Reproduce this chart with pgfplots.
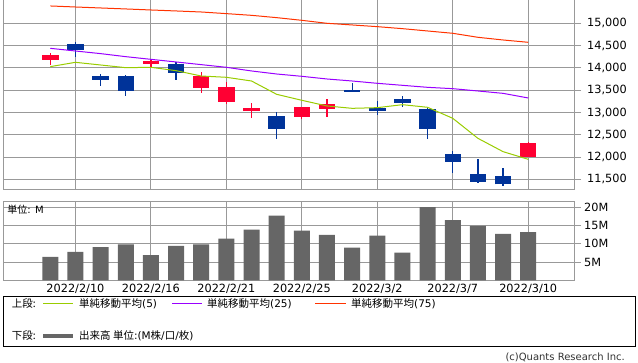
\documentclass[border=0pt]{standalone}
\usepackage{pgfplots}
\pgfplotsset{compat=1.18}
\usepackage{fontspec}
\setmainfont{DejaVu Sans}
\newfontfamily\jp{Noto Sans CJK JP}
\definecolor{upc}{HTML}{FF0033}
\definecolor{dnc}{HTML}{003399}
\definecolor{maA}{HTML}{99CC00}
\definecolor{maB}{HTML}{9900FF}
\definecolor{maC}{HTML}{FF3300}
\definecolor{gridc}{HTML}{999999}
\definecolor{volc}{HTML}{666666}
\pgfplotsset{
  panel/.style={
    scale only axis, anchor=south west,
    width=571bp,
    xmin=-1.88, xmax=20.82,
    scaled ticks=false,
    axis line style={draw=gridc, line width=1bp},
    grid=major, major grid style={draw=gridc, line width=1bp},
    xtick={1,4,7,10,13,16,19},
    xtick style={draw=none},
    ytick pos=right, yticklabel pos=right,
    ytick style={draw=gridc, line width=1bp},
    tick align=outside, major tick length=7bp,
    tick label style={font=\fontsize{11.3bp}{13bp}\selectfont, text=black},
    yticklabel style={anchor=west, inner sep=0pt},
    /pgf/number format/.cd, 1000 sep={,}, assume math mode=true,
  },
  wick/.style={draw=none, mark=none, forget plot,
    error bars/.cd, y dir=plus, y explicit, error mark=none,
    error bar style={line width=1.2bp, draw=#1}},
  body/.style={draw=none, mark=none, forget plot,
    error bars/.cd, y dir=plus, y explicit, error mark=none,
    error bar style={line width=16.5bp, draw=#1}},
}
\begin{document}
\begin{tikzpicture}[x=1bp,y=1bp]
\path[use as bounding box] (0,0) rectangle (638,362);
% ---------- price panel ----------
\begin{axis}[panel, at={(3bp,172bp)}, height=190bp,
  ymin=11261, ymax=15523,
  ytick={11500,12000,12500,13000,13500,14000,14500,15000},
  yticklabel style={xshift=6bp},
  xticklabels={}]
% wicks: (k, low) +- (0, high-low)
\addplot[wick=upc] coordinates {
 (0,14065) +- (0,262)
 (4,14028) +- (0,142)
 (6,13437) +- (0,471)
 (7,13190) +- (0,494)
 (8,12876) +- (0,337)
 (10,12861) +- (0,269)
 (11,12906) +- (0,397)
 (19,12009) +- (0,321)
};
\addplot[wick=dnc] coordinates {
 (1,14252) +- (0,329)
 (2,13594) +- (0,269)
 (3,13370) +- (0,478)
 (5,13729) +- (0,396)
 (9,12413) +- (0,590)
 (12,13467) +- (0,202)
 (13,12951) +- (0,307)
 (14,13131) +- (0,239)
 (15,12413) +- (0,703)
 (16,11650) +- (0,486)
 (17,11425) +- (0,531)
 (18,11358) +- (0,397)
};
% bodies: (k, min(open,close)) +- (0, |close-open|)
\addplot[body=upc] coordinates {
 (0,14177) +- (0,113)
 (4,14088) +- (0,67)
 (6,13549) +- (0,269)
 (7,13243) +- (0,329)
 (8,13033) +- (0,75)
 (10,12899) +- (0,224)
 (11,13078) +- (0,112)
 (19,12009) +- (0,306)
};
\addplot[body=dnc] coordinates {
 (1,14402) +- (0,134)
 (2,13729) +- (0,89)
 (3,13489) +- (0,329)
 (5,13893) +- (0,195)
 (9,12630) +- (0,291)
 (12,13467) +- (0,37)
 (13,13041) +- (0,60)
 (14,13220) +- (0,83)
 (15,12637) +- (0,441)
 (16,11897) +- (0,172)
 (17,11448) +- (0,172)
 (18,11388) +- (0,187)
};
% moving averages
\addplot[maC, line width=1bp, mark=none] coordinates {
 (0,15389) (1,15366) (2,15344) (3,15322) (4,15299) (5,15277) (6,15254)
 (7,15217) (8,15179) (9,15127) (10,15067) (11,15000) (12,14963) (13,14925)
 (14,14880) (15,14828) (16,14776) (17,14686) (18,14626) (19,14574)};
\addplot[maB, line width=1bp, mark=none] coordinates {
 (0,14439) (1,14379) (2,14320) (3,14252) (4,14192) (5,14133) (6,14073)
 (7,14013) (8,13931) (9,13863) (10,13811) (11,13751) (12,13706) (13,13654)
 (14,13609) (15,13564) (16,13534) (17,13482) (18,13429) (19,13325)};
\addplot[maA, line width=1bp, mark=none] coordinates {
 (0,14028) (1,14125) (2,14065) (3,14005) (4,14013) (5,13938) (6,13818)
 (7,13789) (8,13706) (9,13407) (10,13273) (11,13146) (12,13093) (13,13108)
 (14,13175) (15,13116) (16,12869) (17,12420) (18,12121) (19,11949)};
\end{axis}
% ---------- volume panel ----------
\begin{axis}[panel, at={(3bp,81.7bp)}, height=79.3bp,
  ymin=0, ymax=21.7,
  ytick={5,10,15,20}, yticklabels={5M,10M,15M,20M},
  yticklabel style={xshift=3bp},
  xticklabels={2022/2/10,2022/2/16,2022/2/21,2022/2/25,2022/3/2,2022/3/7,2022/3/10},
  xticklabel style={anchor=north, inner sep=0pt, yshift=3bp}]
\addplot[ybar, bar width=16bp, bar shift=0pt, fill=volc, draw=none] coordinates {
 (0,6.4) (1,7.8) (2,9.1) (3,9.8) (4,6.9) (5,9.4) (6,9.8) (7,11.4) (8,13.9)
 (9,17.7) (10,13.6) (11,12.4) (12,8.95) (13,12.2) (14,7.6) (15,20.0)
 (16,16.5) (17,14.9) (18,12.7) (19,13.2)};
\end{axis}
\node[anchor=west, inner sep=0pt, font=\fontsize{10bp}{12bp}\selectfont] at (7.3,152) {{\jp 単位}: M};
% ---------- legend ----------
\draw[black, line width=1bp] (3.5,16) rectangle (635,66);
\begin{scope}[every node/.style={anchor=west, inner sep=0pt, font=\fontsize{10.5bp}{12bp}\selectfont}]
\node at (11.7,58.7) {\jp 上段:};
\draw[maA, line width=1bp] (43,58.7) -- (73,58.7);
\node at (79,58.7) {{\jp 単純移動平均}(5)};
\draw[maB, line width=1bp] (172,58.7) -- (202,58.7);
\node at (207,58.7) {{\jp 単純移動平均}(25)};
\draw[maC, line width=1bp] (315,58.7) -- (346,58.7);
\node at (351,58.7) {{\jp 単純移動平均}(75)};
\node at (11.7,26) {\jp 下段:};
\draw[volc, line width=4bp] (43,26) -- (73,26);
\node at (79,26) {{\jp 出来高 単位}:(M{\jp 株}/{\jp 口}/{\jp 枚})};
\end{scope}
\node[anchor=east, inner sep=0pt, text=black!80, font=\fontsize{10bp}{12bp}\selectfont] at (625,5) {(c)Quants Research Inc.};
\end{tikzpicture}
\end{document}
